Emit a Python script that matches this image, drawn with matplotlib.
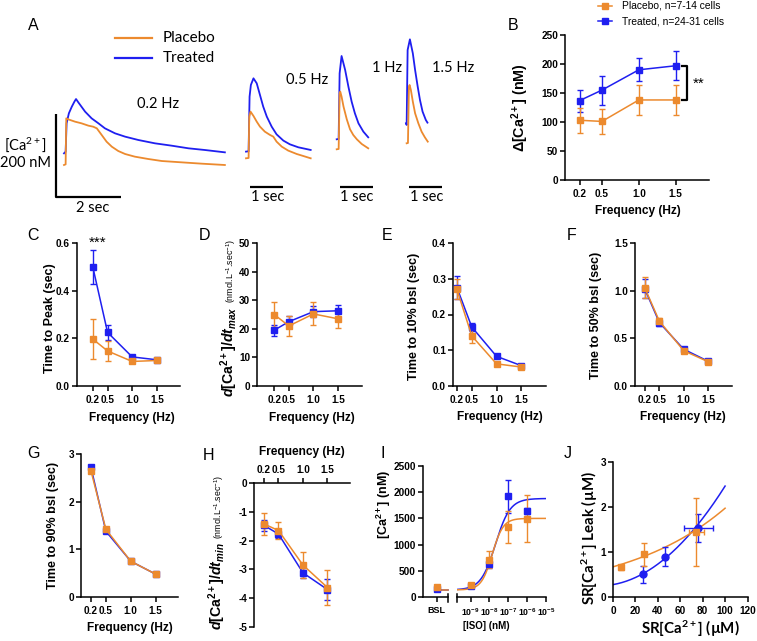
import numpy as np
import matplotlib
matplotlib.use('Agg')
import matplotlib.pyplot as plt
from matplotlib.lines import Line2D

plt.rcParams['font.family'] = ['Liberation Sans', 'DejaVu Sans']
plt.rcParams['font.weight'] = 'bold'
plt.rcParams['mathtext.fontset'] = 'custom'
plt.rcParams['mathtext.rm'] = 'Liberation Sans:bold'
plt.rcParams['mathtext.it'] = 'Liberation Sans:italic:bold'
plt.rcParams['mathtext.bf'] = 'Liberation Sans:bold'
plt.rcParams['axes.unicode_minus'] = False
plt.rcParams['axes.linewidth'] = 1.1

ORANGE = '#EC8A2E'
BLUE = '#1F1FF0'

# ---------------- data ----------------
freq = [0.2, 0.5, 1.0, 1.5]
freq_labels = ['0.2', '0.5', '1.0', '1.5']

# A: representative transients (time in s from sweep start, [Ca2+] in nM)
a02_pl_t = [0, 0.05, 0.07, 0.13, 0.34, 0.54, 0.75, 0.90, 1.01, 1.16, 1.31, 1.47, 1.67, 1.88, 2.18, 2.59, 3.01, 3.62, 4.24, 4.95]
a02_pl_c = [100, 101.6, 212.4, 210, 204.4, 200.4, 194.8, 192.3, 188.3, 172.3, 156.2, 144.2, 133.7, 126.5, 120.1, 114.5, 109.6, 106.4, 103.2, 100]
a02_tr_t = [0, 0.05, 0.08, 0.15, 0.24, 0.32, 0.37, 0.44, 0.65, 0.85, 1.06, 1.26, 1.57, 1.88, 2.29, 2.80, 3.31, 3.83, 4.34, 4.95]
a02_tr_c = [128.1, 132.1, 200.4, 224.5, 240.5, 252.6, 259.0, 251.0, 228.5, 212.4, 200.4, 188.3, 176.3, 168.3, 160.2, 152.2, 146.6, 140.2, 136.1, 130.5]

a05_pl_t = [0, 0.08, 0.10, 0.14, 0.23, 0.33, 0.43, 0.58, 0.74, 0.84, 0.94, 1.10, 1.30, 1.56, 1.76, 1.99]
a05_pl_c = [100, 100.8, 200.4, 212.4, 202.0, 188.3, 176.3, 164.2, 156.2, 152.2, 140.2, 128.1, 118.5, 110.4, 105.6, 100]
a05_tr_t = [0, 0.08, 0.11, 0.15, 0.23, 0.33, 0.43, 0.53, 0.64, 0.79, 0.94, 1.15, 1.35, 1.61, 1.99]
a05_tr_c = [116.1, 116.9, 248.6, 276.7, 292.7, 280.7, 252.6, 224.5, 200.4, 176.3, 157.8, 142.6, 133.7, 126.5, 120.1]

a10_pl_t = [0, 0.06, 0.09, 0.11, 0.15, 0.21, 0.31, 0.41, 0.51, 0.62, 0.77, 0.97]
a10_pl_c = [100, 100.8, 234.9, 238.9, 226.9, 202.8, 172.3, 148.2, 134.5, 124.1, 112.8, 102.4]
a10_tr_t = [0, 0.06, 0.09, 0.15, 0.26, 0.36, 0.46, 0.56, 0.67, 0.82, 0.97]
a10_tr_c = [124.1, 124.9, 283.1, 324.8, 291.1, 251.0, 214.8, 186.7, 162.6, 142.6, 128.9]

a15_pl_t = [0.02, 0.06, 0.09, 0.11, 0.15, 0.21, 0.28, 0.38, 0.48, 0.58, 0.67]
a15_pl_c = [100, 100.8, 236.5, 240.5, 228.5, 200.4, 172.3, 148.2, 128.1, 114.5, 104.0]
a15_tr_t = [0, 0.02, 0.05, 0.12, 0.21, 0.28, 0.36, 0.43, 0.51, 0.61, 0.66]
a15_tr_c = [148.2, 144.2, 324.8, 350.5, 316.8, 276.7, 236.5, 204.4, 176.3, 156.2, 149.8]

# B: amplitude (nM)
amp_pl = [103, 101, 138, 138]
amp_pl_err = [22, 21, 26, 26]
amp_tr = [137, 155, 190, 197]
amp_tr_err = [19, 25, 20, 25]

# C: time to peak (s)
ttp_pl = [0.197, 0.147, 0.103, 0.107]
ttp_pl_err = [0.084, 0.043, 0.007, 0.006]
ttp_tr = [0.50, 0.225, 0.122, 0.110]
ttp_tr_err = [0.07, 0.03, 0.008, 0.005]

# D: max rise rate
dmax_pl = [25.0, 21.0, 25.2, 23.5]
dmax_pl_err = [4.2, 3.6, 4.0, 3.3]
dmax_tr = [19.5, 22.5, 26.0, 26.3]
dmax_tr_err = [2.0, 2.0, 1.8, 2.1]

# E: time to 10% baseline (s)
t10_pl = [0.270, 0.140, 0.062, 0.053]
t10_pl_err = [0.028, 0.020, 0.003, 0.003]
t10_tr = [0.275, 0.165, 0.083, 0.057]
t10_tr_err = [0.033, 0.010, 0.004, 0.003]

# F: time to 50% baseline (s)
t50_pl = [1.03, 0.68, 0.37, 0.255]
t50_pl_err = [0.11, 0.035, 0.02, 0.01]
t50_tr = [1.02, 0.665, 0.385, 0.26]
t50_tr_err = [0.10, 0.035, 0.02, 0.01]

# G: time to 90% baseline (s)
t90_pl = [2.65, 1.42, 0.75, 0.48]
t90_pl_err = [0.05, 0.05, 0.03, 0.02]
t90_tr = [2.72, 1.38, 0.75, 0.48]
t90_tr_err = [0.04, 0.04, 0.02, 0.02]

# H: max decay rate
dmin_pl = [-1.42, -1.65, -2.85, -3.63]
dmin_pl_err = [0.38, 0.30, 0.45, 0.60]
dmin_tr = [-1.47, -1.77, -3.12, -3.70]
dmin_tr_err = [0.20, 0.15, 0.17, 0.37]

# I: ISO dose response
iso_conc = [1e-9, 1e-8, 1e-7, 1e-6]
iso_pl = [222, 712, 1336, 1495]
iso_pl_err = [20, 160, 310, 450]
iso_tr = [212, 636, 1921, 1635]
iso_tr_err = [20, 80, 320, 60]
bsl_pl, bsl_pl_err = 188, 25
bsl_tr, bsl_tr_err = 150, 15
# sigmoid fit parameters: bottom, top, logEC50, hill
iso_fit_pl = [135, 1500, -7.85, 1.5]
iso_fit_tr = [135, 1880, -7.68, 1.12]

# J: SR leak vs SR load
sr_pl = [7.4, 27.4, 74.4]
leak_pl = [0.66, 0.95, 1.45]
leak_pl_err = [0.05, 0.25, 0.75]
sr_pl_err = [0.0, 0.0, 7.0]
sr_tr = [26.8, 46.1, 75.9]
leak_tr = [0.51, 0.90, 1.53]
leak_tr_err = [0.19, 0.22, 0.31]
sr_tr_err = [0.0, 0.0, 13.0]
# fits: placebo exponential (y0, k); treated quadratic (c0, c1, c2)
leak_fit_pl = [0.67, 0.0108]
leak_fit_tr = [0.275, 0.0044, 0.000175]

# ---------------- figure ----------------
W, H = 757, 641
fig = plt.figure(figsize=(W / 100, H / 100), dpi=100)


def add_ax(x0, y0, x1, y1):
    return fig.add_axes([x0 / W, 1 - y1 / H, (x1 - x0) / W, (y1 - y0) / H])


def ftext(x, y, s, **kw):
    return fig.text(x / W, 1 - y / H, s, **kw)


def prism(ax):
    ax.spines['top'].set_visible(False)
    ax.spines['right'].set_visible(False)
    ax.tick_params(direction='out', length=3.5, width=1.1, labelsize=7.2)
    ax.tick_params(axis='y', pad=1.5)
    ax.tick_params(axis='x', pad=3)
    ax.minorticks_off()


def series(ax, x, y, e, color, marker='s', ms=4.3, xerr=None, ls='-'):
    ax.errorbar(x, y, yerr=e, xerr=xerr, color=color, marker=marker, ms=ms, lw=1.1,
                ls=ls, elinewidth=1.0, capsize=2.2, capthick=1.0, clip_on=False, zorder=3)


def freq_axes(ax, xlim, ylim, yticks, ylabels):
    prism(ax)
    ax.set_xlim(*xlim)
    ax.set_ylim(*ylim)
    ax.set_xticks(freq)
    ax.set_xticklabels(freq_labels)
    ax.set_yticks(yticks)
    ax.set_yticklabels(ylabels)


def vlabel(x, y, s, size=9, **kw):
    return ftext(x, y, s, rotation=90, ha='center', va='center', rotation_mode='anchor',
                 fontsize=size, **kw)


def letter(x, y, s):
    ftext(x, y, s, fontsize=11.5, fontweight='normal', ha='center', va='center')


def two_part_label(xb, y0, main, sub):
    t1 = ftext(xb, y0, main, rotation=90, rotation_mode='anchor', ha='left', va='baseline',
               fontsize=10.2, fontweight='bold')
    fig.canvas.draw()
    h = t1.get_window_extent().height
    ftext(xb, y0 - h - 3, sub, rotation=90, rotation_mode='anchor', ha='left', va='baseline',
          fontsize=6.3, fontweight='normal')


# ---------- Panel A ----------
axA = add_ax(0, 0, 470, 215)
axA.set_axis_off()
PX_S = 32.5     # px per second
PX_NM = 0.415   # px per nM
axA.set_xlim(0, 470 / PX_S)
axA.set_ylim(0, 215 / PX_NM)
sweeps = [
    (64, 165, a02_pl_t, a02_pl_c, a02_tr_t, a02_tr_c),
    (246, 158.3, a05_pl_t, a05_pl_c, a05_tr_t, a05_tr_c),
    (336.7, 149.3, a10_pl_t, a10_pl_c, a10_tr_t, a10_tr_c),
    (406, 143.3, a15_pl_t, a15_pl_c, a15_tr_t, a15_tr_c),
]
for x0, yb, pt, pc, tt, tc in sweeps:
    dx = x0 / PX_S
    dy = (215 - yb) / PX_NM - 100
    axA.plot(np.array(tt) + dx, np.array(tc) + dy, color=BLUE, lw=1.3)
    axA.plot(np.array(pt) + dx, np.array(pc) + dy, color=ORANGE, lw=1.3)
# scale bars
sb_x = 56 / PX_S
sb_y = (215 - 197) / PX_NM
axA.plot([sb_x, sb_x, sb_x + 2], [sb_y + 200, sb_y, sb_y], color='black', lw=1.6, solid_capstyle='butt')
yb1 = (215 - 187) / PX_NM
for xs in [250, 340, 409]:
    axA.plot([xs / PX_S, xs / PX_S + 1], [yb1, yb1], color='black', lw=1.6, solid_capstyle='butt')
afont = dict(family=['Lato', 'DejaVu Sans'], fontweight='normal', fontsize=10.5)
ftext(93, 208, '2 sec', ha='center', va='center', **afont)
for xc in [268, 357, 427]:
    ftext(xc, 197, '1 sec', ha='center', va='center', **afont)
ftext(25, 145, r'[Ca$^{\mathdefault{2+}}$]', ha='center', va='center', **afont)
ftext(25, 163, '200 nM', ha='center', va='center', **afont)
ftext(158, 104, '0.2 Hz', ha='center', va='center', **afont)
ftext(307, 80, '0.5 Hz', ha='center', va='center', **afont)
ftext(387, 68, '1 Hz', ha='center', va='center', **afont)
ftext(432, 68, '1.5 Hz', ha='left', va='center', **afont)
for yy, col, lab in [(38, ORANGE, 'Placebo'), (58, BLUE, 'Treated')]:
    fig.add_artist(Line2D([115 / W, 152 / W], [1 - yy / H] * 2, color=col, lw=1.6))
    ftext(163, yy, lab, ha='left', va='center', family=['Lato', 'DejaVu Sans'],
          fontweight='normal', fontsize=11)
letter(33, 25, 'A')

# ---------- Panel B ----------
axB = add_ax(565, 35, 709, 180)
freq_axes(axB, (0, 1.95), (0, 250), [0, 50, 100, 150, 200, 250], ['0', '50', '100', '150', '200', '250'])
series(axB, freq, amp_tr, amp_tr_err, BLUE)
series(axB, freq, amp_pl, amp_pl_err, ORANGE)
axB.plot([1.58, 1.646, 1.646, 1.58], [amp_tr[-1], amp_tr[-1], amp_pl[-1], amp_pl[-1]],
         color='black', lw=1.6, clip_on=False)
ftext(699, 84, '**', fontsize=11, fontweight='normal', ha='center', va='center')
vlabel(520, 108, r'$\Delta$[Ca$^{\mathdefault{2+}}$] (nM)', size=10.3)
ftext(638, 211, 'Frequency (Hz)', ha='center', va='center', fontsize=8.6)
for yy, col, lab in [(6, ORANGE, 'Placebo, n=7-14 cells'), (21, BLUE, 'Treated, n=24-31 cells')]:
    fig.add_artist(Line2D([598 / W, 612 / W], [1 - yy / H] * 2, color=col, lw=1.1))
    fig.add_artist(Line2D([605 / W], [1 - yy / H], color=col, marker='s', ms=4, ls='none'))
    ftext(622, yy, lab, ha='left', va='center', fontsize=7.4, fontweight='normal')
letter(513, 25, 'B')

# ---------- Panel C ----------
axC = add_ax(77, 243, 180, 386)
freq_axes(axC, (-0.12, 1.97), (0, 0.6), [0, 0.2, 0.4, 0.6], ['0.0', '0.2', '0.4', '0.6'])
series(axC, freq, ttp_tr, ttp_tr_err, BLUE)
series(axC, freq, ttp_pl, ttp_pl_err, ORANGE)
ftext(98, 243, '***', fontsize=11, fontweight='normal', ha='center', va='center')
vlabel(50, 318, 'Time to Peak (sec)')
ftext(132, 418, 'Frequency (Hz)', ha='center', va='center', fontsize=8.6)
letter(33, 235, 'C')

# ---------- Panel D ----------
axD = add_ax(257, 243, 362, 386)
freq_axes(axD, (-0.15, 1.99), (0, 50), [0, 10, 20, 30, 40, 50], ['0', '10', '20', '30', '40', '50'])
series(axD, freq, dmax_tr, dmax_tr_err, BLUE)
series(axD, freq, dmax_pl, dmax_pl_err, ORANGE)
ftext(312, 418, 'Frequency (Hz)', ha='center', va='center', fontsize=8.6)
letter(205, 235, 'D')

# ---------- Panel E ----------
axE = add_ax(453, 243, 546, 386)
freq_axes(axE, (0.12, 2.0), (0, 0.4), [0, 0.1, 0.2, 0.3, 0.4], ['0.0', '0.1', '0.2', '0.3', '0.4'])
series(axE, freq, t10_tr, t10_tr_err, BLUE)
series(axE, freq, t10_pl, t10_pl_err, ORANGE)
vlabel(414, 316, 'Time to 10% bsl (sec)')
ftext(500, 417, 'Frequency (Hz)', ha='center', va='center', fontsize=8.6)
letter(387, 235, 'E')

# ---------- Panel F ----------
axF = add_ax(635, 243, 732, 386)
freq_axes(axF, (0.0, 1.99), (0, 1.5), [0, 0.5, 1.0, 1.5], ['0.0', '0.5', '1.0', '1.5'])
series(axF, freq, t50_tr, t50_tr_err, BLUE)
series(axF, freq, t50_pl, t50_pl_err, ORANGE)
vlabel(596, 315, 'Time to 50% bsl (sec)')
ftext(683, 417, 'Frequency (Hz)', ha='center', va='center', fontsize=8.6)
letter(572, 235, 'F')

# ---------- Panel G ----------
axG = add_ax(81, 454, 178, 597)
freq_axes(axG, (0.0, 1.95), (0, 3), [0, 1, 2, 3], ['0', '1', '2', '3'])
series(axG, freq, t90_tr, t90_tr_err, BLUE)
series(axG, freq, t90_pl, t90_pl_err, ORANGE)
vlabel(53, 525, 'Time to 90% bsl (sec)')
ftext(130, 628, 'Frequency (Hz)', ha='center', va='center', fontsize=8.6)
letter(33, 454, 'G')

# ---------- Panel H ----------
axH = add_ax(254, 483, 350, 627)
freq_axes(axH, (0.0, 1.96), (-5, 0), [0, -1, -2, -3, -4, -5], ['0', '-1', '-2', '-3', '-4', '-5'])
axH.spines['bottom'].set_visible(False)
axH.spines['top'].set_visible(True)
axH.xaxis.tick_top()
axH.tick_params(axis='x', pad=2)
series(axH, freq, dmin_tr, dmin_tr_err, BLUE)
series(axH, freq, dmin_pl, dmin_pl_err, ORANGE)
ftext(302, 452, 'Frequency (Hz)', ha='center', va='center', fontsize=8.6)
letter(208, 455, 'H')

# ---------- Panel I ----------
axIb = add_ax(423, 466, 448, 597)
prism(axIb)
axIb.set_xlim(-0.55, 0.45)
axIb.set_ylim(0, 2500)
axIb.set_yticks([0, 500, 1000, 1500, 2000, 2500])
axIb.set_yticklabels(['0', '500', '1000', '1500', '2000', '2500'])
axIb.set_xticks([0])
axIb.set_xticklabels(['BSL'], fontsize=6.5)
axIb.plot([0, 0.45], [iso_fit_tr[0]] * 2, color=BLUE, lw=1.1, clip_on=False)
axIb.plot([0, 0.45], [iso_fit_pl[0]] * 2, color=ORANGE, lw=1.1, clip_on=False)
series(axIb, [0], [bsl_tr], [bsl_tr_err], BLUE, ls='none')
series(axIb, [0], [bsl_pl], [bsl_pl_err], ORANGE, ls='none')
axIb.plot([1, 1], [-0.04, 0.025], transform=axIb.transAxes, color='black', lw=1.1, clip_on=False)

axIl = add_ax(457, 466, 546, 597)
prism(axIl)
axIl.spines['left'].set_visible(False)
axIl.set_xscale('log')
axIl.set_xlim(10 ** -9.72, 1e-5)
axIl.set_ylim(0, 2500)
axIl.tick_params(axis='y', left=False, labelleft=False)
axIl.set_xticks([1e-9, 1e-8, 1e-7, 1e-6, 1e-5])
axIl.set_xticklabels([r'$\mathdefault{10^{-9}}$', r'$\mathdefault{10^{-8}}$', r'$\mathdefault{10^{-7}}$',
                      r'$\mathdefault{10^{-6}}$', r'$\mathdefault{10^{-5}}$'], fontsize=6.3)
axIl.minorticks_off()
xx = np.logspace(-9.72, -5, 200)
for p, col in [(iso_fit_tr, BLUE), (iso_fit_pl, ORANGE)]:
    yy = p[0] + (p[1] - p[0]) / (1 + 10 ** ((p[2] - np.log10(xx)) * p[3]))
    axIl.plot(xx, yy, color=col, lw=1.1)
series(axIl, iso_conc, iso_tr, iso_tr_err, BLUE, ls='none')
series(axIl, iso_conc, iso_pl, iso_pl_err, ORANGE, ls='none')
axIl.plot([0, 0], [-0.04, 0.025], transform=axIl.transAxes, color='black', lw=1.1, clip_on=False)
vlabel(384, 504, r'[Ca$^{\mathdefault{2+}}$] (nM)')
ftext(486, 626, '[ISO] (nM)', ha='center', va='center', fontsize=7)
letter(383, 453, 'I')

# ---------- Panel J ----------
axJ = add_ax(613, 462, 747.5, 597)
prism(axJ)
axJ.set_xlim(0, 120)
axJ.set_ylim(0, 3)
axJ.set_xticks([0, 20, 40, 60, 80, 100, 120])
axJ.set_yticks([0, 1, 2, 3])
xj = np.linspace(0, 100, 200)
axJ.plot(xj, leak_fit_tr[0] + leak_fit_tr[1] * xj + leak_fit_tr[2] * xj ** 2, color=BLUE, lw=1.1)
axJ.plot(xj, leak_fit_pl[0] * np.exp(leak_fit_pl[1] * xj), color=ORANGE, lw=1.1)
series(axJ, sr_tr, leak_tr, leak_tr_err, BLUE, marker='o', ms=5, xerr=sr_tr_err, ls='none')
series(axJ, sr_pl, leak_pl, leak_pl_err, ORANGE, marker='s', ms=4.5, xerr=sr_pl_err, ls='none')
jfont = dict(family=['Lato', 'DejaVu Sans'], fontweight='bold', fontsize=10.8)
ftext(690, 629, r'SR[Ca$^{\mathdefault{2+}}$] (µM)', ha='center', va='center', **jfont)
ftext(590, 538, r'SR[Ca$^{\mathdefault{2+}}$] Leak (µM)', ha='center', va='center', rotation=90,
      rotation_mode='anchor', **jfont)
letter(568, 453, 'J')

# two-part labels (need renderer)
two_part_label(234, 397, r'$d$[Ca$^{\mathdefault{2+}}$]/$dt_{max}$',
               r'(nmol.L$^{\mathdefault{-1}}$.sec$^{\mathdefault{-1}}$)')
two_part_label(222, 630, r'$d$[Ca$^{\mathdefault{2+}}$]/$dt_{min}$',
               r'(nmol.L$^{\mathdefault{-1}}$.sec$^{\mathdefault{-1}}$)')

fig.savefig('out.png', dpi=100)
